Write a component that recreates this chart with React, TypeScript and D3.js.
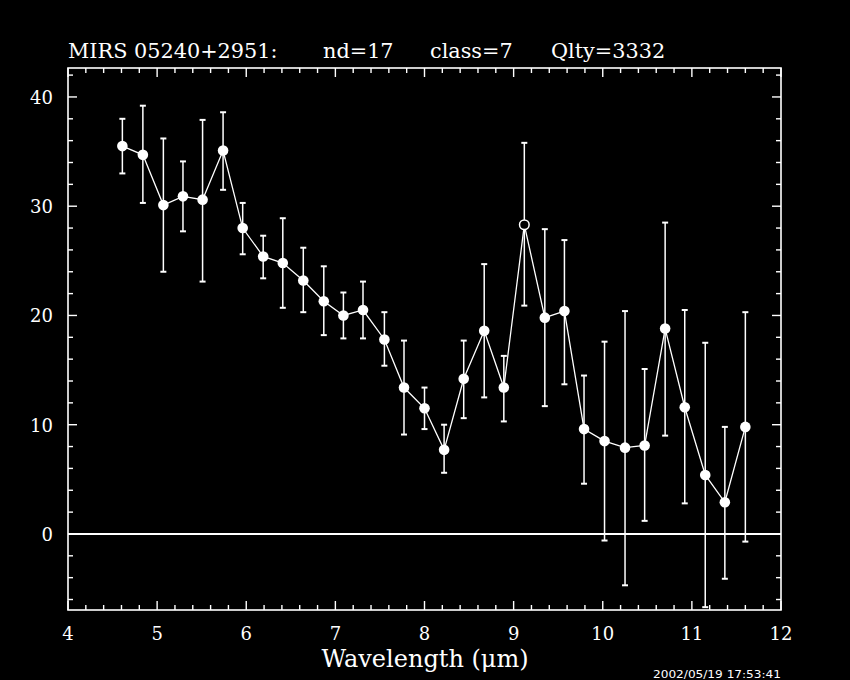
import React from "react";
import * as d3 from "d3";

const wavelength = [4.61, 4.84, 5.07, 5.29, 5.51, 5.74, 5.96, 6.19, 6.41, 6.64, 6.87, 7.09, 7.31, 7.55, 7.77, 8.0, 8.22, 8.44, 8.67, 8.89, 9.12, 9.35, 9.57, 9.79, 10.02, 10.25, 10.47, 10.7, 10.92, 11.15, 11.37, 11.6];
const flux = [35.5, 34.7, 30.1, 30.9, 30.6, 35.1, 28.0, 25.4, 24.8, 23.2, 21.3, 20.0, 20.5, 17.8, 13.4, 11.5, 7.7, 14.2, 18.6, 13.4, 28.3, 19.8, 20.4, 9.6, 8.5, 7.9, 8.1, 18.8, 11.6, 5.4, 2.9, 9.8];
const errHigh = [38.0, 39.2, 36.2, 34.1, 37.9, 38.6, 30.3, 27.3, 28.9, 26.2, 24.5, 22.1, 23.1, 20.3, 17.7, 13.4, 10.0, 17.7, 24.7, 16.3, 35.8, 27.9, 26.9, 14.5, 17.6, 20.4, 15.1, 28.5, 20.5, 17.5, 9.8, 20.3];
const errLow = [33.0, 30.3, 24.0, 27.7, 23.1, 31.5, 25.6, 23.4, 20.7, 20.3, 18.2, 17.9, 17.9, 15.4, 9.1, 9.6, 5.6, 10.6, 12.5, 10.3, 20.9, 11.7, 13.7, 4.6, -0.6, -4.7, 1.2, 9.0, 2.8, -6.7, -4.1, -0.7];
const openMarker = [false, false, false, false, false, false, false, false, false, false, false, false, false, false, false, false, false, false, false, false, true, false, false, false, false, false, false, false, false, false, false, false];

const xTickLabels = ["4", "5", "6", "7", "8", "9", "10", "11", "12"];
const yTickLabels = ["0", "10", "20", "30", "40"];
const titleParts = ["MIRS 05240+2951:", "nd=17", "class=7", "Qlty=3332"];
const xLabel = "Wavelength (μm)";
const timestamp = "2002/05/19 17:53:41";

const W = 850;
const H = 680;
const L = 68, R = 781, T = 68, B = 610;

export default function App() {
  const x = d3.scaleLinear().domain([4, 12]).range([L, R]);
  const y = d3.scaleLinear().domain([-6.96, 42.65]).range([B, T]);

  const xMinor = d3.range(4, 12.001, 0.2).map((v) => Math.round(v * 10) / 10);
  const yMinor = d3.range(-6, 42.001, 2);

  const line = d3
    .line<number>()
    .x((_, i) => x(wavelength[i]))
    .y((d) => y(d));

  const serif = "'DejaVu Serif', serif";
  const white = "#ffffff";

  return (
    <svg
      width={W}
      height={H}
      style={{ position: "absolute", left: 0, top: 0, background: "#000" }}
    >
      <rect x={0} y={0} width={W} height={H} fill="#000" />
      {/* title */}
      {titleParts.map((t, i) => (
        <text
          key={t}
          x={[68, 323, 430, 551][i]}
          y={58}
          fill={white}
          fontFamily={serif}
          fontSize={20.8}
        >
          {t}
        </text>
      ))}
      {/* frame */}
      <rect x={L} y={T} width={R - L} height={B - T} fill="none" stroke={white} strokeWidth={1.6} />
      {/* x ticks */}
      {xMinor.map((v) => {
        const major = Math.abs(v - Math.round(v)) < 1e-6;
        const len = major ? 9 : 5;
        return (
          <g key={"xt" + v}>
            <line x1={x(v)} x2={x(v)} y1={B} y2={B - len} stroke={white} strokeWidth={1.4} />
            <line x1={x(v)} x2={x(v)} y1={T} y2={T + len} stroke={white} strokeWidth={1.4} />
          </g>
        );
      })}
      {/* y ticks */}
      {yMinor.map((v) => {
        const major = v % 10 === 0;
        const len = major ? 9 : 5;
        return (
          <g key={"yt" + v}>
            <line x1={L} x2={L + len} y1={y(v)} y2={y(v)} stroke={white} strokeWidth={1.4} />
            <line x1={R} x2={R - len} y1={y(v)} y2={y(v)} stroke={white} strokeWidth={1.4} />
          </g>
        );
      })}
      {/* x tick labels */}
      {xTickLabels.map((t) => (
        <text
          key={"xl" + t}
          x={x(+t)}
          y={640}
          fill={white}
          fontFamily={serif}
          fontSize={18}
          textAnchor="middle"
        >
          {t}
        </text>
      ))}
      {/* y tick labels */}
      {yTickLabels.map((t) => (
        <text
          key={"yl" + t}
          x={53}
          y={y(+t) + 7}
          fill={white}
          fontFamily={serif}
          fontSize={18}
          textAnchor="end"
        >
          {t}
        </text>
      ))}
      {/* x axis title */}
      <text x={425} y={667} fill={white} fontFamily={serif} fontSize={24} textAnchor="middle">
        {xLabel}
      </text>
      {/* timestamp */}
      <text
        x={653}
        y={678}
        fill={white}
        fontFamily="'DejaVu Sans', sans-serif"
        fontSize={10.5}
        textLength={128}
        lengthAdjust="spacingAndGlyphs"
      >
        {timestamp}
      </text>
      {/* zero line */}
      <line x1={L} x2={R} y1={y(0)} y2={y(0)} stroke={white} strokeWidth={2} />
      {/* error bars */}
      {wavelength.map((w, i) => (
        <g key={"eb" + i}>
          <line x1={x(w)} x2={x(w)} y1={y(errLow[i])} y2={y(errHigh[i])} stroke={white} strokeWidth={1.5} />
          <line x1={x(w) - 3} x2={x(w) + 3} y1={y(errLow[i])} y2={y(errLow[i])} stroke={white} strokeWidth={2} />
          <line x1={x(w) - 3} x2={x(w) + 3} y1={y(errHigh[i])} y2={y(errHigh[i])} stroke={white} strokeWidth={2} />
        </g>
      ))}
      {/* connecting line */}
      <path d={line(flux) || ""} fill="none" stroke={white} strokeWidth={1.3} />
      {/* markers */}
      {wavelength.map((w, i) =>
        openMarker[i] ? (
          <circle key={"m" + i} cx={x(w)} cy={y(flux[i])} r={4.8} fill="#000" stroke={white} strokeWidth={1.5} />
        ) : (
          <circle key={"m" + i} cx={x(w)} cy={y(flux[i])} r={5.3} fill={white} />
        )
      )}
    </svg>
  );
}
